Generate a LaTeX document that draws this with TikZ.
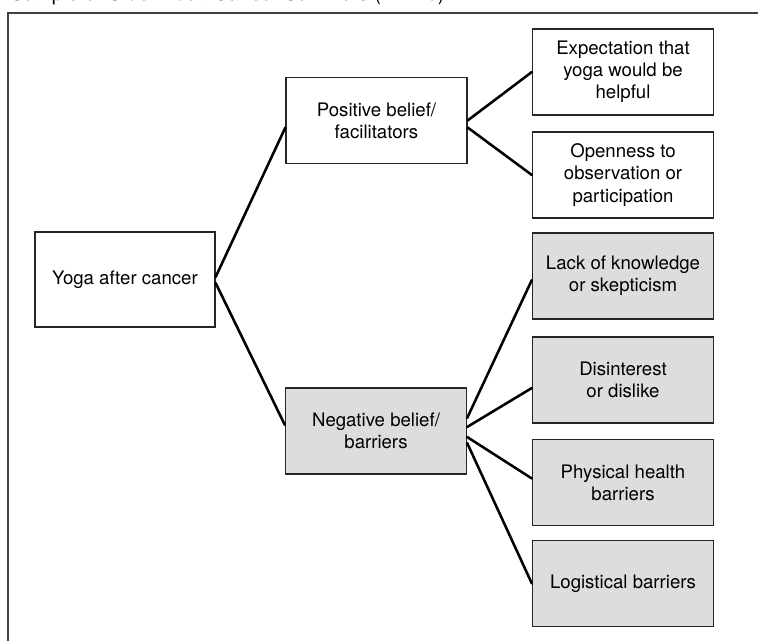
\documentclass[tikz,border=0pt]{standalone}
\usepackage{fontspec}
\setmainfont{TeX Gyre Heros}
\usepackage{tikz}
\usetikzlibrary{calc}
\usepackage{xcolor}
\definecolor{boxgray}{RGB}{220,221,223}
\colorlet{edgecol}{black!85}
\colorlet{framecol}{black!75}
\tikzstyle{theme}=[draw=edgecol,line width=0.75pt,align=center,inner sep=0pt,
  minimum width=3.62cm,minimum height=1.72cm,font=\fontsize{10.6}{12.6}\selectfont]
\tikzstyle{barrier}=[theme,fill=boxgray]
\tikzstyle{link}=[line width=1.45pt,black]
\tikzstyle{frame}=[line width=0.8pt,framecol]

\begin{document}
\begin{tikzpicture}[x=0.02cm,y=-0.02cm,line cap=round]
  \path[use as bounding box,clip] (0,0) rectangle (758,641);
  \draw[frame] (8,13) rectangle (790,680);
  \node[anchor=base west,inner sep=0pt,font=\fontsize{11.5}{14}\selectfont] (title) at (10,0.5)
    {Sample of Older Adult Cancer Survivors (n = 40)};

  \node[theme,minimum width=3.6cm,minimum height=1.9cm] (yoga) at (125,279.5) {Yoga after cancer};
  \node[theme] (pos) at (376.5,120.5) {Positive belief/\\facilitators};
  \node[barrier] (neg) at (376,431) {Negative belief/\\barriers};

  \node[theme] (expect) at (623,72) {Expectation that\\yoga would be\\helpful};
  \node[theme] (open) at (623,175) {Openness to\\observation or\\participation};
  \node[barrier] (lack) at (623,276) {Lack of knowledge\\or skepticism};
  \node[barrier] (dislike) at (623,380) {Disinterest\\or dislike};
  \node[barrier] (health) at (623,482.5) {Physical health\\barriers};
  \node[barrier] (logist) at (623,583.5) {Logistical barriers};

  \draw[link] ($(yoga.east)+(0,-2.5)$) -- ($(pos.west)+(0,7)$);
  \draw[link] ($(yoga.east)+(0,3.5)$) -- ($(neg.west)+(0,-6)$);

  \draw[link] (pos.east) -- (expect.west);
  \draw[link] ($(pos.east)+(0,7)$) -- (open.west);

  \draw[link] ($(neg.east)+(0,-13)$) -- ($(lack.west)+(0,4)$);
  \draw[link] ($(neg.east)+(0,-4)$) -- ($(dislike.west)+(0,8)$);
  \draw[link] ($(neg.east)+(0,6)$) -- ($(health.west)+(0,-4)$);
  \draw[link] ($(neg.east)+(0,12)$) -- (logist.west);
\end{tikzpicture}
\end{document}
